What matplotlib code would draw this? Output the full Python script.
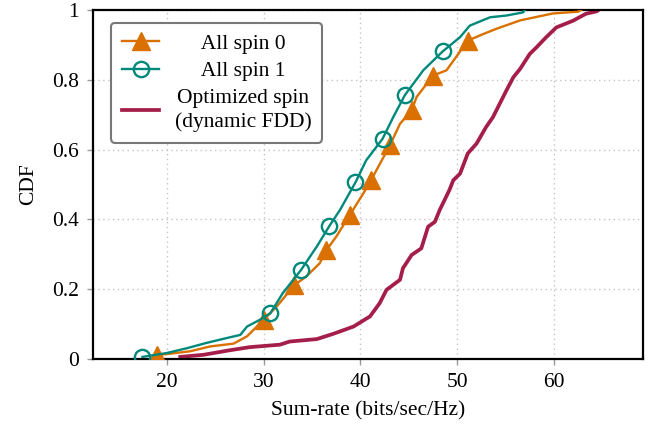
import numpy as np
import matplotlib
matplotlib.use("Agg")
import matplotlib.pyplot as plt

plt.rcParams['font.family'] = ['Liberation Serif', 'DejaVu Serif']
plt.rcParams['font.size'] = 15.5

# All spin 0 (CDF curve + marker points)
spin0_x = [19.0, 20.0, 22.4, 24.5, 26.9, 28.3, 31.35, 34.4, 35.8, 37.5, 40.3,
           44.1, 45.8, 48.9, 52.7, 54.05, 56.5, 59.9, 62.5, 62.8]
spin0_y = [0.012, 0.014, 0.022, 0.036, 0.044, 0.065, 0.15, 0.236, 0.274, 0.35, 0.474,
           0.674, 0.75, 0.827, 0.931, 0.946, 0.97, 0.99, 0.995, 1.0]
spin0_mx = [19.0, 30.0, 33.2, 36.5, 38.9, 41.1, 43.05, 45.3, 47.5, 51.1]
spin0_my = [0.012, 0.112, 0.212, 0.312, 0.412, 0.512, 0.612, 0.712, 0.812, 0.912]

# All spin 1
spin1_x = [17.5, 20.0, 22.1, 24.1, 26.2, 27.6, 28.3, 29.6, 32.0, 35.5, 37.9,
           40.6, 43.4, 46.5, 50.3, 51.3, 53.4, 55.1, 56.8, 57.0]
spin1_y = [0.006, 0.017, 0.031, 0.046, 0.06, 0.069, 0.093, 0.112, 0.189, 0.322, 0.427,
           0.569, 0.693, 0.827, 0.922, 0.955, 0.979, 0.984, 0.993, 1.0]
spin1_mx = [17.5, 30.7, 33.9, 36.8, 39.5, 42.3, 44.6, 48.5]
spin1_my = [0.006, 0.131, 0.256, 0.381, 0.506, 0.631, 0.756, 0.881]

# Optimized spin (dynamic FDD)
opt_x = [21.4, 23.8, 26.5, 28.6, 31.7, 32.7, 35.5, 37.2, 39.3, 41.0, 42.0, 42.7,
         44.1, 44.4, 45.3, 46.3, 47.0, 47.7, 48.2, 49.2, 49.6, 50.3, 51.1, 52.0,
         53.0, 53.7, 55.1, 55.8, 56.5, 57.5, 58.2, 59.2, 60.25, 61.96, 63.3, 64.4, 64.6]
opt_y = [0.006, 0.012, 0.025, 0.034, 0.041, 0.05, 0.057, 0.072, 0.093, 0.122, 0.16, 0.198,
         0.227, 0.26, 0.298, 0.317, 0.379, 0.393, 0.427, 0.484, 0.512, 0.531, 0.589, 0.617,
         0.665, 0.693, 0.77, 0.807, 0.831, 0.874, 0.893, 0.922, 0.95, 0.969, 0.989, 0.996, 1.0]

c_orange = "#D97000"
c_teal = "#00897B"
c_red = "#A51E4A"


def merge(x, y, mx, my):
    # put marker points into the curve and return the marker indices
    pts = sorted([(a, b, False) for a, b in zip(x, y)] + [(a, b, True) for a, b in zip(mx, my)],
                 key=lambda p: (p[1], p[0]))
    xs = [p[0] for p in pts]
    ys = [p[1] for p in pts]
    idx = [i for i, p in enumerate(pts) if p[2]]
    return xs, ys, idx


fig = plt.figure(figsize=(6.65, 4.32), dpi=100)
ax = fig.add_axes([0.140, 0.169, 0.827, 0.808])

x0, y0, m0 = merge(spin0_x, spin0_y, spin0_mx, spin0_my)
x1, y1, m1 = merge(spin1_x, spin1_y, spin1_mx, spin1_my)

ax.plot(x0, y0, color=c_orange, lw=1.7, marker="^", ms=12.5, markevery=m0,
        label="     All spin 0", zorder=3)
ax.plot(x1, y1, color=c_teal, lw=1.7, marker="o", ms=11, mfc="none", mew=1.7,
        markevery=m1, label="     All spin 1", zorder=4)
ax.plot(opt_x, opt_y, color=c_red, lw=2.7, label="Optimized spin\n(dynamic FDD)", zorder=2)

ax.set_xlim(12.4, 69.2)
ax.set_ylim(0, 1)
ax.set_xticks([20, 30, 40, 50, 60])
ax.set_yticks([0, 0.2, 0.4, 0.6, 0.8, 1])
ax.set_yticklabels(["0", "0.2", "0.4", "0.6", "0.8", "1"])
ax.grid(True, color="#C4C4C4", linestyle=(0, (1, 2.5)), linewidth=1.0)
ax.tick_params(direction="out", length=4, width=1, color="#999999", pad=6)
for s in ax.spines.values():
    s.set_linewidth(1.6)
ax.set_xlabel("Sum-rate (bits/sec/Hz)", labelpad=7)
ax.set_ylabel("CDF", labelpad=10)

leg = ax.legend(loc="upper left", bbox_to_anchor=(0.013, 0.994), fancybox=True,
                framealpha=1, edgecolor="#777777", handlelength=1.75, labelspacing=0.35,
                borderpad=0.5, handletextpad=0.7)
leg.get_frame().set_linewidth(1.5)
for t in leg.get_texts():
    t.set_multialignment("center")
    t.set_linespacing(1.3)

fig.savefig("out.png", dpi=100)
